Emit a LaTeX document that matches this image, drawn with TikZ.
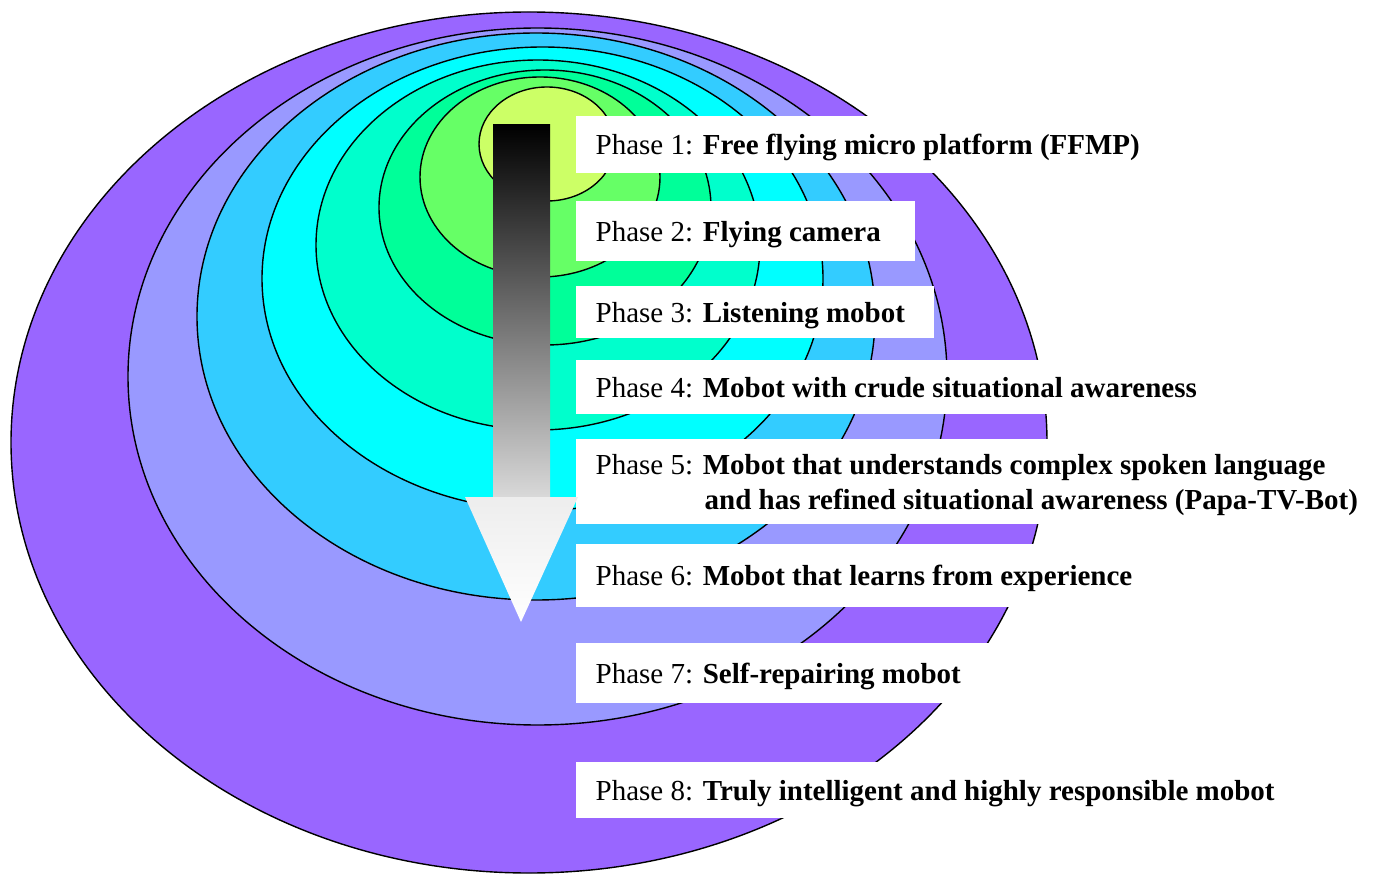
\documentclass[tikz,border=0pt]{standalone}
\usepackage{fontspec}
\setmainfont{Liberation Serif}
\usepackage{tikz}
\definecolor{ringA}{HTML}{CCFF66}
\definecolor{ringB}{HTML}{66FF66}
\definecolor{ringC}{HTML}{00FF99}
\definecolor{ringD}{HTML}{00FFCC}
\definecolor{ringE}{HTML}{00FFFF}
\definecolor{ringF}{HTML}{33CCFF}
\definecolor{ringG}{HTML}{9999FF}
\definecolor{ringH}{HTML}{9966FF}

\begin{document}
\begin{tikzpicture}[x=1pt, y=-1pt, line width=1.4pt,
		phase/.style={fill=white, anchor=west, inner xsep=20pt, inner ysep=0pt,
			text depth=0pt, align=left, font=\fontsize{29}{35}\selectfont},
	]
		\useasboundingbox (0,0) rectangle (1386,874);
		% nested rings, outer first
		\foreach \cx/\cy/\rx/\ry/\col in {
				529/442.5/518/430.5/ringH,
				537.5/376.5/409.5/348.5/ringG,
				536/316.5/339/283.5/ringF,
				542.5/278.5/280.5/231.5/ringE,
				538/245/222/185/ringD,
				545/207.5/166/137.5/ringC,
				540/177/120/100/ringB,
				547/144/68/57/ringA}
			\draw[fill=\col] (\cx,\cy) ellipse [x radius=\rx pt, y radius=\ry pt];
		%
		\node[phase, minimum height=57pt] (p1) at (575,144.5) {Phase 1: \textbf{Free flying micro platform (FFMP)}};
		\node[phase, minimum height=60pt] (p2) at (575,231) {\makebox[299pt][l]{Phase 2: \textbf{Flying camera}}};
		\node[phase, minimum height=52pt] (p3) at (575,312) {\makebox[318pt][l]{Phase 3: \textbf{Listening mobot}}};
		\node[phase, minimum height=54pt] (p4) at (575,387) {Phase 4: \textbf{Mobot with crude situational awareness}};
		\node[phase, minimum height=85pt] (p5) at (575,481.5) {Phase 5: \textbf{Mobot that understands complex spoken language}\\
			\hspace*{109pt}\textbf{and has refined situational awareness (Papa-TV-Bot)}};
		\node[phase, minimum height=63pt] (p6) at (575,575.5) {Phase 6: \textbf{Mobot that learns from experience}};
		\node[phase, minimum height=60pt] (p7) at (575,673) {\makebox[385pt][l]{Phase 7: \textbf{Self-repairing mobot}}};
		\node[phase, minimum height=56pt] (p8) at (575,790) {Phase 8: \textbf{Truly intelligent and highly responsible mobot}};
		%
		\shade[top color=black, bottom color=black!15] (493,125) rectangle (550,497);
		\shade[top color=black!7, bottom color=white]
			(465,497) -- (578,497) -- (521,622) -- cycle;
	\end{tikzpicture}
\end{document}
